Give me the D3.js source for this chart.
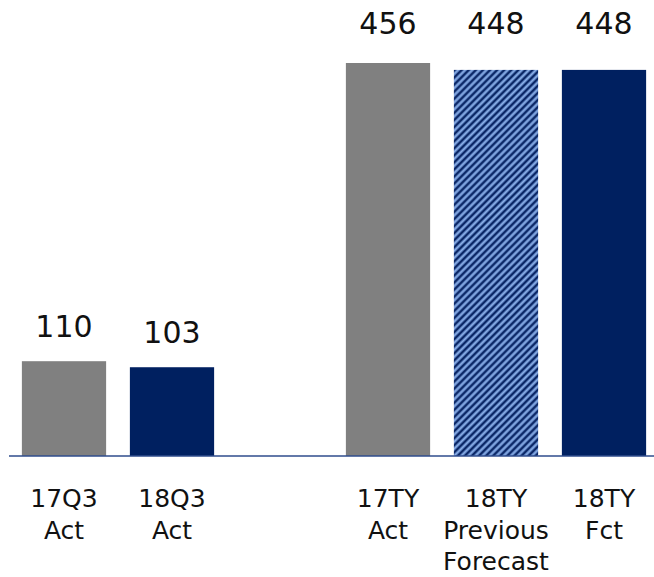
<!DOCTYPE html>
<html>
<head>
<meta charset="utf-8">
<script src="https://cdn.jsdelivr.net/npm/d3@7"></script>
<style>
  body { margin: 0; background: #fff; }
  text { font-family: "DejaVu Sans", Verdana, sans-serif; fill: #111; }
</style>
</head>
<body>
<svg id="chart" width="654" height="577"></svg>
<script>
// chart data
var categories = ["17Q3", "18Q3", "gap", "17TY", "18TY", "18TYfct"];
var labelLines = [["17Q3", "Act"], ["18Q3", "Act"], [], ["17TY", "Act"], ["18TY", "Previous", "Forecast"], ["18TY", "Fct"]];
var values = [110, 103, null, 456, 448, 448];
var fills = ["#808080", "#002060", null, "#808080", "url(#hatch)", "#002060"];

var svg = d3.select("#chart");

// hatch for the previous forecast bar
var defs = svg.append("defs");
var pat = defs.append("pattern")
    .attr("id", "hatch")
    .attr("patternUnits", "userSpaceOnUse")
    .attr("width", 5).attr("height", 5)
    .attr("patternTransform", "rotate(45)");
pat.append("rect").attr("width", 5).attr("height", 5).attr("fill", "#3f63a8");
pat.append("rect").attr("x", 0).attr("width", 2).attr("height", 5).attr("fill", "#0b2766");
pat.append("rect").attr("x", 2.6).attr("width", 1.8).attr("height", 5).attr("fill", "#8cb0e8");

var x = d3.scaleBand()
    .domain(categories)
    .range([10, 658])
    .paddingInner(0.22)
    .paddingOuter(0.11);

var y = d3.scaleLinear()
    .domain([0, 456])
    .range([456, 63]);

var data = categories.map(function (c, i) {
    return { cat: c, value: values[i], fill: fills[i], lines: labelLines[i] };
});
var bars = data.filter(function (d) { return d.value != null; });

svg.selectAll("rect.bar")
    .data(bars)
    .enter()
    .append("rect")
    .attr("class", "bar")
    .attr("x", function (d) { return x(d.cat); })
    .attr("width", x.bandwidth())
    .attr("y", function (d) { return y(d.value); })
    .attr("height", function (d) { return y(0) - y(d.value); })
    .attr("fill", function (d) { return d.fill; });

// value labels
svg.selectAll("text.val")
    .data(bars)
    .enter()
    .append("text")
    .attr("class", "val")
    .attr("x", function (d) { return x(d.cat) + x.bandwidth() / 2; })
    .attr("y", function (d) {
        var ly = y(d.value) - 24;
        return ly < 60 ? 34 : ly;   // tall bars: labels sit at the top
    })
    .attr("text-anchor", "middle")
    .style("font-size", "30px")
    .text(function (d) { return d.value; });

// baseline
svg.append("line")
    .attr("x1", 9).attr("x2", 654)
    .attr("y1", y(0)).attr("y2", y(0))
    .attr("stroke", "#2f4c8c")
    .attr("stroke-width", 1.5);

// category labels
var cl = svg.selectAll("text.cat")
    .data(bars)
    .enter()
    .append("text")
    .attr("class", "cat")
    .attr("text-anchor", "middle")
    .style("font-size", "25px");

cl.selectAll("tspan")
    .data(function (d) {
        return d.lines.map(function (t) { return { t: t, cx: x(d.cat) + x.bandwidth() / 2 }; });
    })
    .enter()
    .append("tspan")
    .attr("x", function (d) { return d.cx; })
    .attr("y", function (d, i) { return 507 + i * 31.5; })
    .text(function (d) { return d.t; });
</script>
</body>
</html>
